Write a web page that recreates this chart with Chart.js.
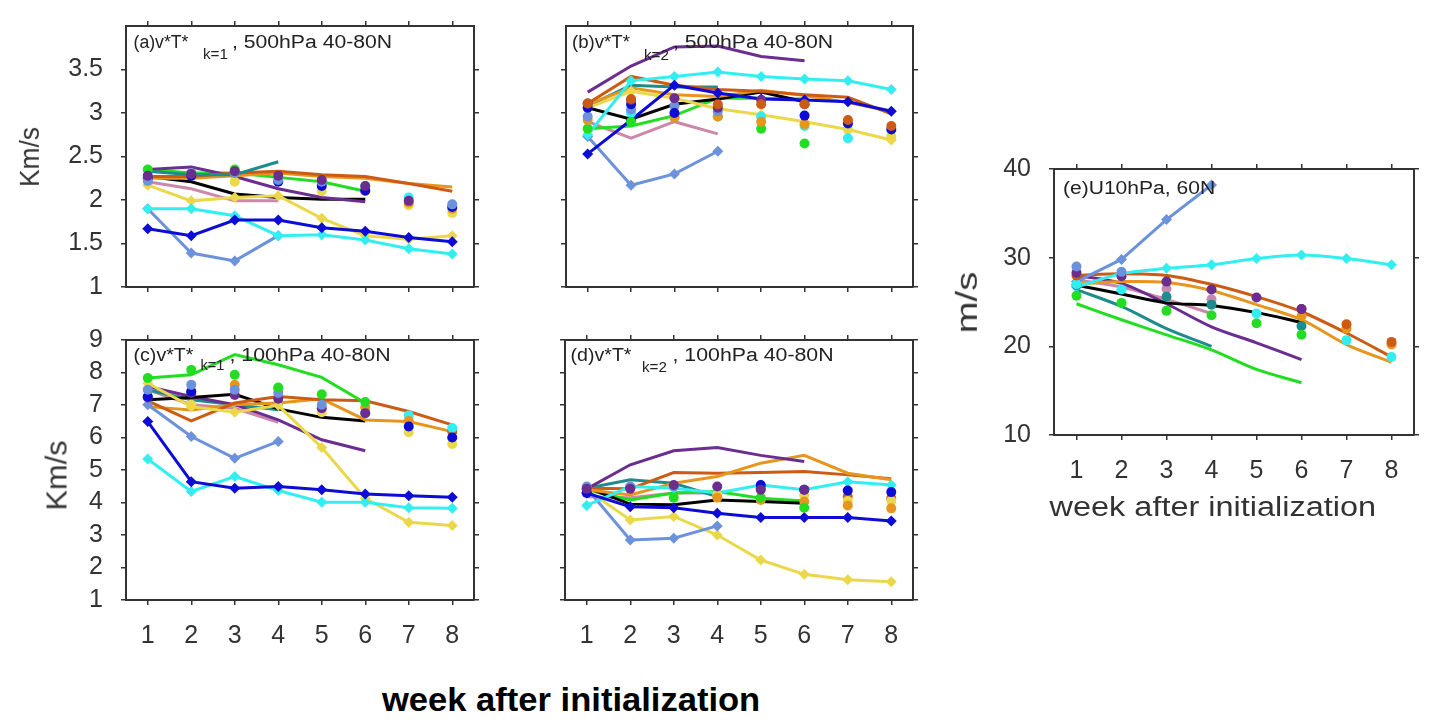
<!DOCTYPE html>
<html><head><meta charset="utf-8">
<script src="https://cdn.jsdelivr.net/npm/chart.js@4.4.1/dist/chart.umd.min.js"></script>
<style>
html,body{margin:0;padding:0;background:#fff;}
body{width:1444px;height:720px;position:relative;overflow:hidden;font-family:'Liberation Sans',Arial,Helvetica,sans-serif;}
canvas.cv{position:absolute;}
.t{position:absolute;white-space:nowrap;line-height:1;color:#333;font-family:'Liberation Sans',Arial,sans-serif;}
</style></head><body>
<script>
// ---------- categories & ticks ----------
const weeks = [1, 2, 3, 4, 5, 6, 7, 8];
const kmsTicks500 = [1, 1.5, 2, 2.5, 3, 3.5];
const kmsTicks100 = [1, 2, 3, 4, 5, 6, 7, 8, 9];
const uTicks = [10, 20, 30, 40];

// ---------- (a) v*T* k=1, 500hPa ----------
const aBlack  = [2.27, 2.21, 2.07, 2.03, 2.01, 2.01];
const aGreen  = [2.35, 2.31, 2.31, 2.26, 2.21, 2.10];
const aTeal   = [2.33, 2.29, 2.29, 2.44];
const aPurple = [2.35, 2.38, 2.27, 2.13, 2.03, 1.98];
const aBrown  = [2.27, 2.27, 2.31, 2.33, 2.29, 2.27, 2.19, 2.10];
const aOrange = [2.25, 2.25, 2.28, 2.31, 2.27, 2.25, 2.19, 2.15];
const aPink   = [2.21, 2.13, 1.99, 1.99];
const aYellow = [2.17, 1.99, 2.03, 2.05, 1.79, 1.59, 1.55, 1.59];
const aCyan   = [1.90, 1.90, 1.82, 1.59, 1.60, 1.54, 1.44, 1.38];
const aBlue   = [1.67, 1.59, 1.77, 1.77, 1.68, 1.64, 1.57, 1.52];
const aCorn   = [1.90, 1.39, 1.30, 1.59];
const aDotPurple = [2.28, 2.30, 2.33, 2.28, 2.23, 2.16, 1.99, null];
const aDotCorn   = [2.22, 2.31, 2.31, 2.23, 2.21, null, null, 1.95];
const aDotBlue   = [2.25, 2.28, null, 2.21, 2.16, 2.11, null, 1.92];
const aDotGreen  = [2.35, null, 2.35, null, null, null, null, null];
const aDotCyan   = [null, null, null, null, null, 2.16, 2.03, null];
const aDotOrange = [null, null, null, null, null, 2.10, 1.97, 1.90];
const aDotYellow = [null, null, 2.21, null, 2.10, null, 1.94, 1.85];

// ---------- (b) v*T* k=2, 500hPa ----------
const bPurple = [3.24, 3.54, 3.76, 3.77, 3.65, 3.60];
const bCyan   = [2.75, 3.37, 3.42, 3.47, 3.42, 3.39, 3.37, 3.27];
const bBlue   = [2.53, 2.92, 3.32, 3.23, 3.16, 3.15, 3.13, 3.02];
const bCorn   = [2.73, 2.17, 2.30, 2.56];
const bYellow = [3.06, 3.25, 3.17, 3.05, 2.98, 2.90, 2.81, 2.69];
const bBrown  = [3.11, 3.42, 3.32, 3.27, 3.25, 3.21, 3.18, 2.99];
const bOrange = [3.10, 3.29, 3.21, 3.19, 3.26, 3.20, 3.12, 3.02];
const bTeal   = [3.08, 3.32, 3.30, 3.30];
const bBlack  = [3.06, 2.93, 3.10, 3.16, 3.24, 3.13];
const bGreen  = [2.82, 2.85, 2.97, 3.17, 3.17, 3.16];
const bPink   = [2.90, 2.71, 2.90, 2.76];
const bDotBrown  = [3.11, 3.16, null, 3.10, 3.10, 3.10, 2.92, 2.85];
const bDotPurple = [3.11, 3.15, 3.17, 3.06, 3.15, 3.10, null, null];
const bDotBlue   = [3.06, 3.10, 3.00, null, null, 2.97, 2.88, 2.81];
const bDotCorn   = [2.96, 3.04, 3.08, 3.02, null, null, null, null];
const bDotOrange = [2.92, null, 2.95, 2.96, 2.90, 2.87, null, null];
const bDotGreen  = [2.82, 2.90, 2.95, 2.96, 2.82, 2.65, null, null];
const bDotCyan   = [null, 3.00, null, null, 2.96, 2.85, 2.71, null];
const bDotYellow = [null, null, null, null, null, null, 2.81, 2.73];

// ---------- (c) v*T* k=1, 100hPa ----------
const cGreen  = [7.83, 7.93, 8.55, 8.24, 7.85, 7.06];
const cBlue   = [6.49, 4.64, 4.44, 4.49, 4.39, 4.26, 4.21, 4.16];
const cCyan   = [5.34, 4.34, 4.80, 4.37, 4.01, 4.01, 3.84, 3.82];
const cCorn   = [7.01, 6.03, 5.36, 5.88];
const cYellow = [7.67, 6.95, 6.78, 6.99, 5.69, 4.13, 3.39, 3.29];
const cBlack  = [7.16, 7.23, 7.33, 6.88, 6.62, 6.51];
const cBrown  = [7.13, 6.51, 7.06, 7.26, 7.16, 7.13, 6.80, 6.39];
const cOrange = [6.95, 6.85, 7.01, 7.06, 7.19, 6.54, 6.49, 6.18];
const cPurple = [7.57, 7.26, 7.01, 6.54, 5.93, 5.59];
const cPink   = [7.47, 7.01, 6.90, 6.47];
const cTeal   = [7.47, 7.16, 7.01, 6.85];
const cDotGreen  = [7.83, 8.08, 7.93, 7.54, 7.33, 7.09, null, null];
const cDotCorn   = [7.47, 7.62, 7.47, 7.37, 7.01, null, null, null];
const cDotBlue   = [7.26, 7.42, null, null, null, null, 6.34, 6.00];
const cDotPurple = [7.23, 7.37, 7.31, 7.19, 6.90, 6.75, null, null];
const cDotOrange = [null, null, 7.62, 7.50, null, 6.92, 6.51, null];
const cDotYellow = [null, 7.01, null, null, 6.78, null, 6.16, 5.80];
const cDotCyan   = [null, null, null, null, null, 6.75, 6.68, 6.29];
const cDotBrown  = [null, null, null, null, null, null, null, 6.18];

// ---------- (d) v*T* k=2, 100hPa ----------
const dPurple = [4.42, 5.16, 5.59, 5.69, 5.45, 5.26];
const dOrange = [4.39, 4.23, 4.59, 4.80, 5.21, 5.45, 4.90, 4.70];
const dBrown  = [4.44, 4.42, 4.92, 4.90, 4.92, 4.95, 4.85, 4.73];
const dCyan   = [3.91, 4.49, 4.44, 4.29, 4.54, 4.39, 4.64, 4.54];
const dBlue   = [4.29, 3.87, 3.84, 3.67, 3.54, 3.54, 3.54, 3.43];
const dCorn   = [4.44, 2.85, 2.90, 3.28];
const dYellow = [4.39, 3.46, 3.57, 3.00, 2.23, 1.79, 1.62, 1.56];
const dBlack  = [4.46, 3.95, 3.93, 4.08, 4.03, 3.98];
const dGreen  = [4.39, 4.08, 4.29, 4.34, 4.13, 4.05];
const dTeal   = [4.44, 4.70, 4.59, 4.18];
const dPink   = [4.18, 4.15, 4.29, 4.29];
const dDotPurple = [4.42, 4.42, 4.54, 4.49, 4.39, 4.39, null, null];
const dDotCorn   = [4.49, 4.49, 4.49, null, null, null, null, null];
const dDotBlue   = [4.29, 4.46, null, null, 4.54, 4.39, 4.37, 4.32];
const dDotGreen  = [null, null, 4.15, null, 4.15, 3.84, null, null];
const dDotOrange = [4.39, null, null, 4.15, 4.08, 4.03, 3.91, 3.82];
const dDotYellow = [null, null, null, 4.23, null, 4.23, 4.05, 4.05];
const dDotBrown  = [null, null, null, null, 4.44, null, 4.18, 4.13];

// ---------- (e) U10hPa, 60N ----------
const eCorn   = [27.3, 29.8, 34.3, 38.2];
const eCyan   = [26.7, 28.2, 28.8, 29.2, 29.9, 30.3, 29.9, 29.2];
const eBrown  = [28.0, 28.2, 28.0, 27.0, 25.6, 23.9, 21.5, 18.8];
const eOrange = [27.0, 27.3, 27.2, 26.3, 24.7, 23.0, 20.2, 18.2];
const eBlack  = [26.9, 25.9, 24.9, 24.6, 23.8, 22.7];
const ePurple = [28.0, 27.1, 24.8, 22.2, 20.4, 18.5];
const eTeal   = [26.4, 24.5, 22.0, 20.0];
const eGreen  = [24.8, 23.0, 21.3, 19.6, 17.4, 15.9];
const ePink   = [27.5, 26.7, 25.3, 23.7];
const eDotCorn   = [29.0, 28.4, null, null, null, null, null, null];
const eDotPurple = [28.3, 27.9, 27.3, 26.4, 25.5, 24.2, null, null];
const eDotBrown  = [28.0, null, null, null, null, 24.2, 22.5, 20.5];
const eDotCyan   = [27.0, 26.4, null, null, 23.7, null, 20.7, 18.8];
const eDotGreen  = [25.7, 24.9, 24.0, 23.5, 22.6, 21.3, null, null];
const eDotTeal   = [26.9, null, 25.6, 24.7, null, 22.3, null, null];
const eDotPink   = [null, null, 26.5, 25.3, null, null, null, null];
const eDotOrange = [null, null, null, null, null, 23.4, 22.0, 20.2];

// ---------- styling ----------
const COL = {
  black: '#000000', green: '#22dd22', teal: '#1c8c8c', purple: '#6b2d90',
  brown: '#cc5c14', orange: '#e6961e', yellow: '#ebd84a', pink: '#cc88aa',
  cyan: '#33eef0', blue: '#0c0cd6', corn: '#6c92dc'
};
const FONT = "'Liberation Sans', Arial, sans-serif";
const AX = '#333333';

function pts(vals) {
  return vals.map((v, i) => (v == null ? null : { x: weeks[i], y: v })).filter(p => p);
}
function line(vals, key, marker, tension) {
  return {
    type: 'line', data: pts(vals), borderColor: COL[key], backgroundColor: COL[key],
    borderWidth: 3, tension: tension || 0, fill: false,
    pointStyle: 'rectRot', pointRadius: marker ? 5.5 : 0, pointBorderWidth: 0,
    pointBackgroundColor: COL[key], order: marker ? 1 : 2
  };
}
function dots(vals, key) {
  return {
    type: 'line', data: pts(vals), showLine: false, borderColor: COL[key],
    pointStyle: 'circle', pointRadius: 5, pointBorderWidth: 0,
    pointBackgroundColor: COL[key], order: 0
  };
}

function makePanel(box, o) {
  const L = 110, R = 15, T = 45, B = 60;
  const W = box.r - box.l + L + R, H = box.b - box.t + T + B;
  const cv = document.createElement('canvas');
  cv.className = 'cv';
  cv.width = W; cv.height = H;
  cv.style.left = (box.l - L) + 'px'; cv.style.top = (box.t - T) + 'px';
  cv.style.width = W + 'px'; cv.style.height = H + 'px';
  document.body.appendChild(cv);
  const grid = { drawOnChartArea: false, drawTicks: true, tickLength: 5, color: AX, lineWidth: 1.5 };
  const border = { display: true, color: AX, width: 2 };
  const tickFont = { family: FONT, size: 25 };
  const setX = s => { s.ticks = weeks.map(v => ({ value: v })); };
  const setY = s => { s.ticks = o.yTicks.map(v => ({ value: v })); };
  const noPad = s => { s.paddingTop = 0; s.paddingBottom = 0; s.paddingLeft = 0; s.paddingRight = 0; };
  new Chart(cv, {
    data: { datasets: o.datasets },
    options: {
      responsive: false, animation: false, devicePixelRatio: 1,
      layout: { padding: 0 },
      plugins: { legend: { display: false }, tooltip: { enabled: false } },
      scales: {
        x: { type: 'linear', position: 'bottom', min: 0.5, max: 8.5, afterBuildTicks: setX,
             afterFit: s => { s.height = B; noPad(s); }, grid, border,
             ticks: { display: o.showX, font: tickFont, color: AX, padding: 16, maxRotation: 0, autoSkip: false, callback: v => String(v) } },
        x2: { type: 'linear', axis: 'x', position: 'top', min: 0.5, max: 8.5, afterBuildTicks: setX,
              afterFit: s => { s.height = T; noPad(s); }, grid, border, ticks: { display: false } },
        y: { type: 'linear', position: 'left', min: o.yMin, max: o.yMax, afterBuildTicks: setY,
             afterFit: s => { s.width = L; noPad(s); }, grid, border,
             ticks: { display: o.showY, font: tickFont, color: AX, padding: 18, autoSkip: false, callback: v => String(v) } },
        y2: { type: 'linear', axis: 'y', position: 'right', min: o.yMin, max: o.yMax, afterBuildTicks: setY,
              afterFit: s => { s.width = R; noPad(s); }, grid, border, ticks: { display: false } }
      }
    }
  });
}

function addText(txt, o) {
  const el = document.createElement('div');
  el.className = 't';
  el.textContent = txt;
  el.style.fontSize = o.size + 'px';
  if (o.bold) el.style.fontWeight = 'bold';
  if (o.color) el.style.color = o.color;
  document.body.appendChild(el);
  const nw = el.offsetWidth, nh = el.offsetHeight;
  const s = o.w ? o.w / nw : 1;
  let cx = o.cx;
  if (o.left !== undefined) cx = o.left + (o.w || nw) / 2;
  el.style.left = (cx - nw / 2) + 'px';
  el.style.top = (o.cy - nh / 2) + 'px';
  el.style.transformOrigin = '50% 50%';
  el.style.transform = (o.rot ? 'rotate(' + o.rot + 'deg) ' : '') + 'scaleX(' + s + ')';
}

// ---------- panels ----------
makePanel({ l: 126, r: 474, t: 26, b: 287 }, {
  yMin: 1, yMax: 4, yTicks: kmsTicks500, showX: false, showY: true,
  datasets: [
    dots(aDotPurple, 'purple'), dots(aDotCorn, 'corn'), dots(aDotBlue, 'blue'), dots(aDotGreen, 'green'),
    dots(aDotCyan, 'cyan'), dots(aDotOrange, 'orange'), dots(aDotYellow, 'yellow'),
    line(aBlue, 'blue', true), line(aCyan, 'cyan', true), line(aCorn, 'corn', true), line(aYellow, 'yellow', true),
    line(aTeal, 'teal'), line(aBrown, 'brown'), line(aOrange, 'orange'), line(aPurple, 'purple'),
    line(aBlack, 'black'), line(aGreen, 'green'), line(aPink, 'pink')
  ]
});
makePanel({ l: 566, r: 913, t: 26, b: 287 }, {
  yMin: 1, yMax: 4, yTicks: kmsTicks500, showX: false, showY: false,
  datasets: [
    dots(bDotBrown, 'brown'), dots(bDotPurple, 'purple'), dots(bDotBlue, 'blue'), dots(bDotCorn, 'corn'),
    dots(bDotOrange, 'orange'), dots(bDotGreen, 'green'), dots(bDotCyan, 'cyan'), dots(bDotYellow, 'yellow'),
    line(bBlue, 'blue', true), line(bCyan, 'cyan', true), line(bCorn, 'corn', true), line(bYellow, 'yellow', true),
    line(bPurple, 'purple'), line(bBrown, 'brown'), line(bOrange, 'orange'), line(bTeal, 'teal'),
    line(bBlack, 'black'), line(bGreen, 'green'), line(bPink, 'pink')
  ]
});
makePanel({ l: 126, r: 474, t: 340, b: 600 }, {
  yMin: 1, yMax: 9, yTicks: kmsTicks100, showX: true, showY: true,
  datasets: [
    dots(cDotGreen, 'green'), dots(cDotCorn, 'corn'), dots(cDotBlue, 'blue'), dots(cDotPurple, 'purple'),
    dots(cDotOrange, 'orange'), dots(cDotYellow, 'yellow'), dots(cDotCyan, 'cyan'), dots(cDotBrown, 'brown'),
    line(cBlue, 'blue', true), line(cCyan, 'cyan', true), line(cCorn, 'corn', true), line(cYellow, 'yellow', true),
    line(cGreen, 'green'), line(cBrown, 'brown'), line(cOrange, 'orange'), line(cBlack, 'black'),
    line(cPurple, 'purple'), line(cTeal, 'teal'), line(cPink, 'pink')
  ]
});
makePanel({ l: 565, r: 913, t: 340, b: 600 }, {
  yMin: 1, yMax: 9, yTicks: kmsTicks100, showX: true, showY: false,
  datasets: [
    dots(dDotPurple, 'purple'), dots(dDotCorn, 'corn'), dots(dDotBlue, 'blue'), dots(dDotGreen, 'green'),
    dots(dDotOrange, 'orange'), dots(dDotYellow, 'yellow'), dots(dDotBrown, 'brown'),
    line(dBlue, 'blue', true), line(dCyan, 'cyan', true), line(dCorn, 'corn', true), line(dYellow, 'yellow', true),
    line(dPurple, 'purple'), line(dOrange, 'orange'), line(dBrown, 'brown'), line(dTeal, 'teal'),
    line(dBlack, 'black'), line(dGreen, 'green'), line(dPink, 'pink')
  ]
});
makePanel({ l: 1054, r: 1414, t: 169, b: 435 }, {
  yMin: 10, yMax: 40, yTicks: uTicks, showX: true, showY: true,
  datasets: [
    dots(eDotCorn, 'corn'), dots(eDotPurple, 'purple'), dots(eDotBrown, 'brown'), dots(eDotCyan, 'cyan'),
    dots(eDotGreen, 'green'), dots(eDotTeal, 'teal'), dots(eDotPink, 'pink'), dots(eDotOrange, 'orange'),
    line(eCorn, 'corn', true), line(eCyan, 'cyan', true, 0.3),
    line(eBrown, 'brown', false, 0.3), line(eOrange, 'orange', false, 0.3), line(eBlack, 'black', false, 0.3),
    line(ePurple, 'purple', false, 0.3), line(eTeal, 'teal', false, 0.3), line(eGreen, 'green', false, 0.3),
    line(ePink, 'pink', false, 0.3)
  ]
});

// ---------- texts ----------
const TC = '#222';
addText('(a)v*T*', { left: 133, w: 55, cy: 42, size: 18, color: TC });
addText('k=1', { left: 203, w: 25, cy: 54, size: 14, color: TC });
addText(', 500hPa 40-80N', { left: 232, w: 160, cy: 42, size: 18, color: TC });
addText('(b)v*T*', { left: 572, w: 58, cy: 42, size: 18, color: TC });
addText('k=2', { left: 644, w: 25, cy: 55, size: 14, color: TC });
addText(', 500hPa 40-80N', { left: 673, w: 160, cy: 42, size: 18, color: TC });
addText('(c)v*T*', { left: 133, w: 60, cy: 355, size: 18, color: TC });
addText('k=1', { left: 200, w: 24, cy: 365, size: 14, color: TC });
addText(', 100hPa 40-80N', { left: 229, w: 161, cy: 355, size: 18, color: TC });
addText('(d)v*T*', { left: 570, w: 61, cy: 355, size: 18, color: TC });
addText('k=2', { left: 642, w: 25, cy: 367, size: 14, color: TC });
addText(', 100hPa 40-80N', { left: 672, w: 161, cy: 355, size: 18, color: TC });
addText('(e)U10hPa, 60N', { left: 1063, w: 152, cy: 188, size: 18, color: TC });

addText('Km/s', { cx: 30, cy: 157, w: 60, size: 28, rot: -90 });
addText('Km/s', { cx: 57, cy: 475, w: 70, size: 29, rot: -90 });
addText('m/s', { cx: 967, cy: 302, w: 62, size: 29, rot: -90 });
addText('week after initialization', { cx: 1213, cy: 507, w: 327, size: 27 });
addText('week after initialization', { cx: 571, cy: 699, w: 378, size: 34, bold: true, color: '#000' });
</script>
</body></html>
